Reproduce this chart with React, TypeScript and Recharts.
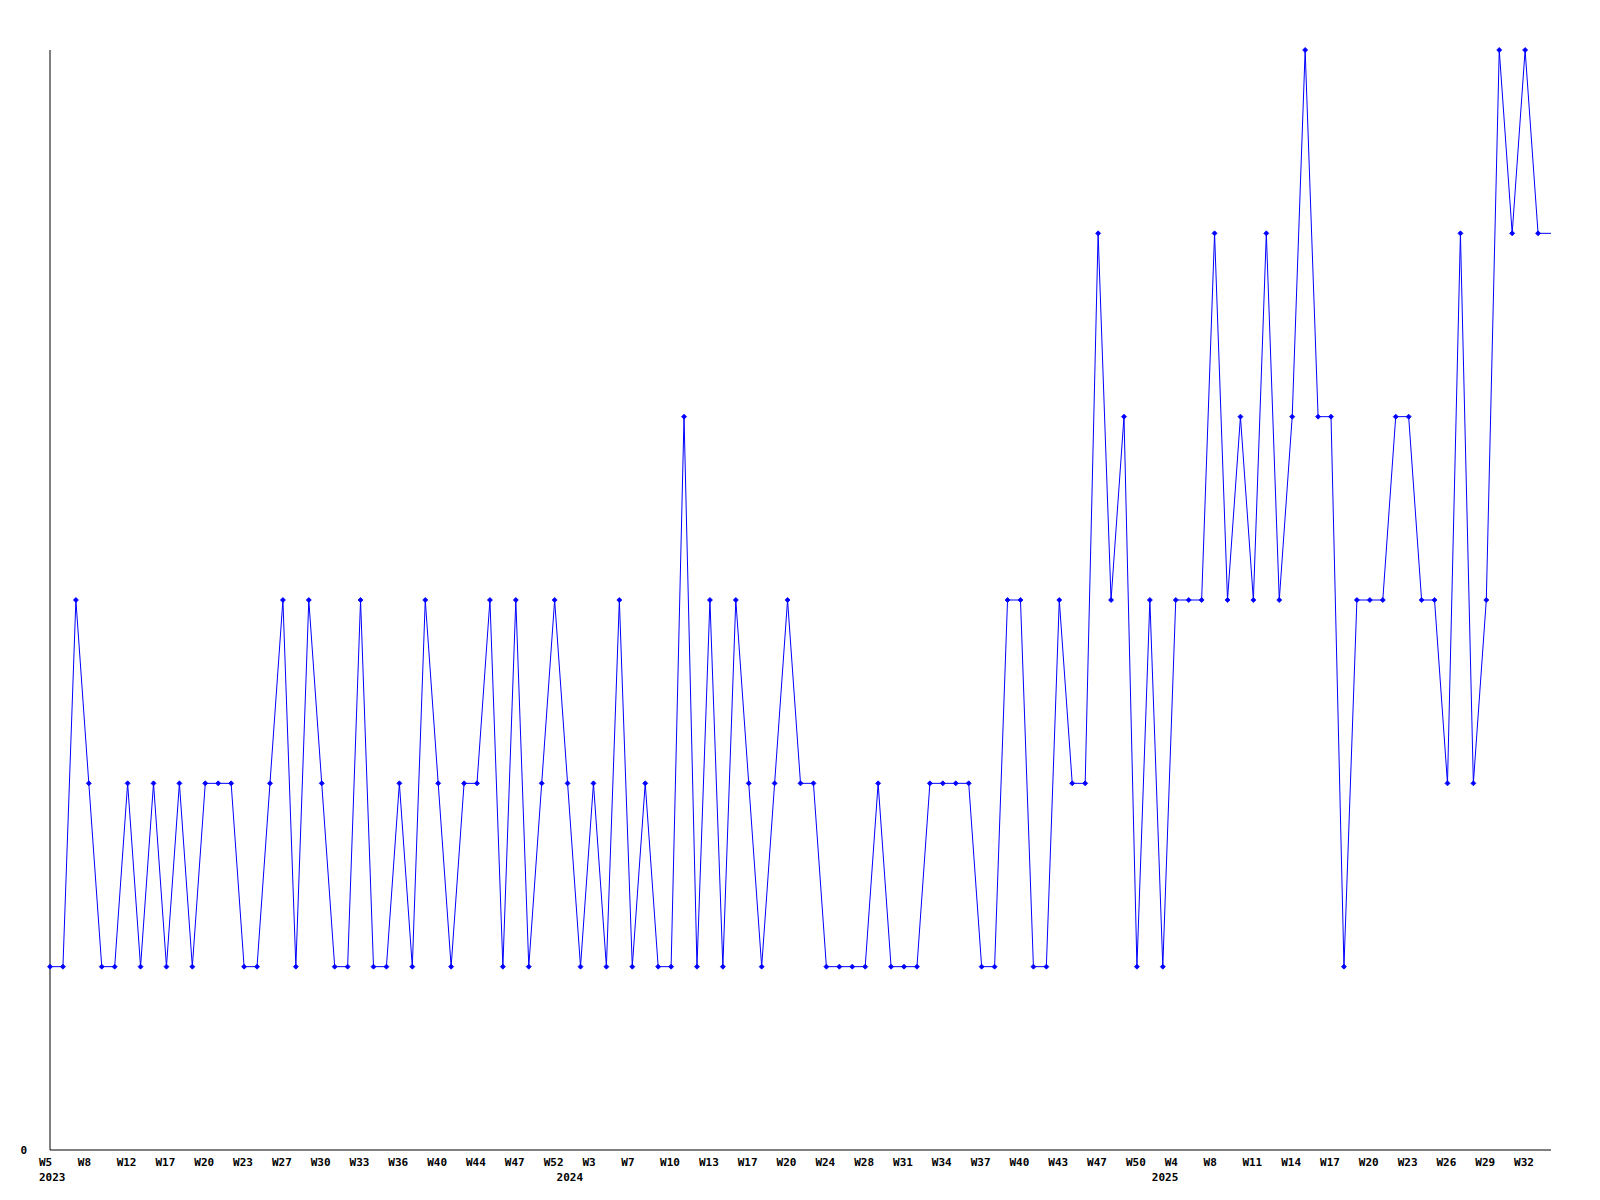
import { LineChart, Line, XAxis, YAxis } from 'recharts'

// weekly counts, one per data point (last point is the running week, drawn without marker)
const values = [
  1, 1, 3, 2, 1, 1, 2, 1, 2, 1, 2, 1, 2, 2, 2, 1, 1, 2, 3, 1,
  3, 2, 1, 1, 3, 1, 1, 2, 1, 3, 2, 1, 2, 2, 3, 1, 3, 1, 2, 3,
  2, 1, 2, 1, 3, 1, 2, 1, 1, 4, 1, 3, 1, 3, 2, 1, 2, 3, 2, 2,
  1, 1, 1, 1, 2, 1, 1, 1, 2, 2, 2, 2, 1, 1, 3, 3, 1, 1, 3, 2,
  2, 5, 3, 4, 1, 3, 1, 3, 3, 3, 5, 3, 4, 3, 5, 3, 4, 6, 4, 4,
  1, 3, 3, 3, 4, 4, 3, 3, 2, 5, 2, 3, 6, 5, 6, 5, 5,
]

// week label on every third point
const weekTicks = [
  'W5', 'W8', 'W12', 'W17', 'W20', 'W23', 'W27', 'W30', 'W33', 'W36',
  'W40', 'W44', 'W47', 'W52', 'W3', 'W7', 'W10', 'W13', 'W17', 'W20',
  'W24', 'W28', 'W31', 'W34', 'W37', 'W40', 'W43', 'W47', 'W50', 'W4',
  'W8', 'W11', 'W14', 'W17', 'W20', 'W23', 'W26', 'W29', 'W32',
]

// first point of each year
const yearTicks = [
  { index: 0, label: '2023' },
  { index: 40, label: '2024' },
  { index: 86, label: '2025' },
]

const data = values.map((v, i) => ({ i, v }))

const tickIdx = data
  .map((d) => d.i)
  .filter((i) => i % 3 === 0 || yearTicks.some((y) => y.index === i))

const FONT = '"DejaVu Sans Mono", monospace'

const XTick = (props: any) => {
  const { x, y, payload } = props
  const idx = payload.value
  const year = yearTicks.find((t) => t.index === idx)
  return (
    <g>
      {idx % 3 === 0 && (
        <text x={x - 11} y={y + 12} textAnchor="start" dominantBaseline="central"
          fontFamily={FONT} fontSize={11} fontWeight="bold" fill="#000">
          {weekTicks[idx / 3]}
        </text>
      )}
      {year && (
        <text x={x - 11} y={y + 27} textAnchor="start" dominantBaseline="central"
          fontFamily={FONT} fontSize={11} fontWeight="bold" fill="#000">
          {year.label}
        </text>
      )}
    </g>
  )
}

const Marker = (props: any) => {
  const { cx, cy, index } = props
  if (index === values.length - 1) return <g key={index} />
  return (
    <path key={index}
      d={`M${cx - 2.5},${cy} L${cx},${cy - 2.5} L${cx + 2.5},${cy} L${cx},${cy + 2.5} Z`}
      fill="#0000ff" stroke="#0000ff" strokeWidth={0.8} />
  )
}

export default function App() {
  return (
    <div style={{ width: 1592, height: 1192, background: '#fff' }}>
      <LineChart width={1592} height={1192} data={data}
        margin={{ top: 42, right: 49, bottom: 10, left: 0 }}>
        <XAxis dataKey="i" type="category" ticks={tickIdx} interval={0}
          tick={<XTick />} tickLine={false} tickSize={0} tickMargin={0}
          height={40} axisLine={{ stroke: '#000' }} padding={{ left: 0, right: 0 }} />
        <YAxis domain={[0, 6]} ticks={[0]} width={42} tickLine={false}
          tickSize={0} tickMargin={23} axisLine={{ stroke: '#000' }}
          tick={{ fontFamily: FONT, fontSize: 11, fontWeight: 'bold', fill: '#000' }} />
        <Line type="linear" dataKey="v" stroke="#0000ff" strokeWidth={1}
          dot={<Marker />} activeDot={false} isAnimationActive={false} />
      </LineChart>
    </div>
  )
}
